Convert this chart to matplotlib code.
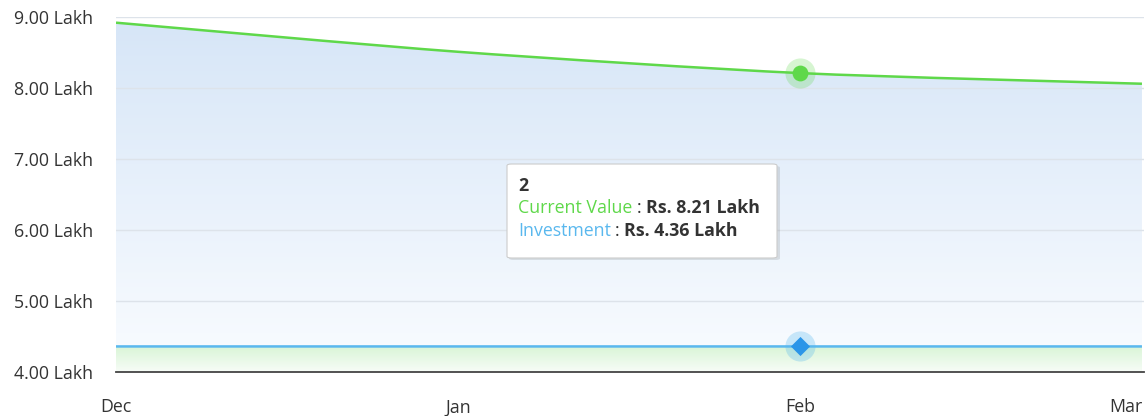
import numpy as np
import matplotlib.pyplot as plt
import matplotlib.transforms as mtransforms
from matplotlib.path import Path
from matplotlib.patches import PathPatch, FancyBboxPatch

plt.rcParams['font.family'] = ['Open Sans', 'DejaVu Sans']

# data (Rs. Lakh)
months = ['Dec', 'Jan', 'Feb', 'Mar']
current_value = [8.92, 8.51, 8.21, 8.06]
investment = [4.36, 4.36, 4.36, 4.36]
y_ticks = [4, 5, 6, 7, 8, 9]
hover_idx = 2

GREEN = '#5fd84a'
BLUE = '#5ab8ee'
FS = 12.8


def spline_verts(xs, ys, smooth=1.5):
    # highcharts-like smoothing: bezier control points from neighbours
    verts = [(xs[0], ys[0])]
    codes = [Path.MOVETO]
    n = len(xs)
    for i in range(1, n):
        p0 = (xs[i - 1], ys[i - 1])
        p1 = (xs[i], ys[i])
        prev = (xs[i - 2], ys[i - 2]) if i >= 2 else p0
        nxt = (xs[i + 1], ys[i + 1]) if i + 1 < n else p1
        c1 = (p0[0] + (p1[0] - prev[0]) / (2 * smooth + 1) * 0.5,
              p0[1] + (p1[1] - prev[1]) / (2 * smooth + 1) * 0.5)
        c2 = (p1[0] - (nxt[0] - p0[0]) / (2 * smooth + 1) * 0.5,
              p1[1] - (nxt[1] - p0[1]) / (2 * smooth + 1) * 0.5)
        verts += [c1, c2, p1]
        codes += [Path.CURVE4] * 3
    return verts, codes


fig = plt.figure(figsize=(11.46, 4.16), dpi=100)
ax = fig.add_axes([116 / 1146, 44 / 416, (1144 - 116) / 1146, 355 / 416])
x = np.arange(len(months))
ax.set_xlim(0, 3.006)
ax.set_ylim(4, 9)

# gradient fills
def grad_fill(ys, top_col, bot_col, ytop):
    v, c = spline_verts(list(x), ys)
    v = v + [(x[-1], 4), (x[0], 4), (x[0], ys[0])]
    c = c + [Path.LINETO, Path.LINETO, Path.CLOSEPOLY]
    patch = PathPatch(Path(v, c), facecolor='none', edgecolor='none')
    ax.add_patch(patch)
    t = np.linspace(0, 1, 256).reshape(-1, 1)
    top = np.array(top_col)
    bot = np.array(bot_col)
    img = top * (1 - t)[..., None] + bot * t[..., None]
    im = ax.imshow(img, extent=[0, 3.006, 4, ytop], aspect='auto',
                   origin='upper', zorder=1)
    im.set_clip_path(patch)
    v2, c2 = spline_verts(list(x), ys)
    return Path(v2, c2)

p_cur = grad_fill(current_value, (0.84, 0.90, 0.97), (0.98, 0.99, 1.0), 9)
p_inv = grad_fill(investment, (0.85, 0.96, 0.84), (0.97, 0.99, 0.97), 4.36)

for yt in y_ticks[1:]:
    ax.axhline(yt, color='#dde3ea', lw=1, zorder=2)

ax.add_patch(PathPatch(p_cur, facecolor='none', edgecolor=GREEN, lw=1.8, zorder=4))
ax.add_patch(PathPatch(p_inv, facecolor='none', edgecolor=BLUE, lw=1.8, zorder=4))

# hover markers
ax.scatter([x[hover_idx]], [current_value[hover_idx]], s=470, color=GREEN,
           alpha=0.25, lw=0, zorder=5, clip_on=False)
ax.scatter([x[hover_idx]], [current_value[hover_idx]], s=130, color=GREEN,
           lw=0, zorder=6)
ax.scatter([x[hover_idx]], [investment[hover_idx]], s=470, color=BLUE,
           alpha=0.3, lw=0, zorder=5)
ax.scatter([x[hover_idx]], [investment[hover_idx]], s=95, marker='D',
           color='#2b95e8', lw=0, zorder=6)

for s in ['top', 'right', 'left']:
    ax.spines[s].set_visible(False)
ax.spines['bottom'].set_color('#444444')
ax.spines['bottom'].set_linewidth(1.3)
ax.spines['bottom'].set_zorder(7)

ax.set_xticks(x)
ax.set_xticklabels(months)
ax.set_yticks(y_ticks)
ax.set_yticklabels(['%.2f Lakh' % v for v in y_ticks])
ax.tick_params(axis='both', length=0, labelsize=FS, colors='#333333')
ax.tick_params(axis='x', pad=19)
ax.tick_params(axis='y', pad=0)
for lbl in ax.get_yticklabels():
    lbl.set_horizontalalignment('left')
    lbl.set_x(-102 / 1028)
# last month label is pushed in a bit from the right edge
last = ax.get_xticklabels()[-1]
last.set_transform(last.get_transform() +
                   mtransforms.ScaledTranslation(-16 / 100, 0, fig.dpi_scale_trans))

# tooltip
box = FancyBboxPatch((507 / 1146, (416 - 258) / 416), 270 / 1146, 94 / 416,
                     boxstyle='round,pad=0,rounding_size=0.004',
                     transform=fig.transFigure, facecolor='white',
                     edgecolor='#cccccc', lw=0.8, zorder=10)
shadow = FancyBboxPatch((509 / 1146, (416 - 260) / 416), 271 / 1146, 94 / 416,
                        boxstyle='round,pad=0,rounding_size=0.004',
                        transform=fig.transFigure, facecolor='#000000',
                        alpha=0.10, lw=0, zorder=9)
fig.add_artist(shadow)
fig.add_artist(box)
tx = 518 / 1146
fig.text(tx, (416 - 186) / 416, str(hover_idx), fontsize=FS, weight='bold',
         color='#333333', va='center', zorder=11)
t1 = fig.text(tx, (416 - 208) / 416, 'Current Value', fontsize=FS,
              color=GREEN, va='center', zorder=11)
t2 = fig.text(tx, (416 - 231) / 416, 'Investment', fontsize=FS,
              color=BLUE, va='center', zorder=11)
fig.canvas.draw()
r = fig.canvas.get_renderer()
for t, val in [(t1, current_value[hover_idx]), (t2, investment[hover_idx])]:
    bb = t.get_window_extent(r)
    yy = t.get_position()[1]
    c = fig.text(bb.x1 / 1146 + 4 / 1146, yy, ':', fontsize=FS,
                 color='#333333', va='center', zorder=11)
    cb = c.get_window_extent(r)
    fig.text(cb.x1 / 1146 + 5 / 1146, yy, 'Rs. %.2f Lakh' % val,
             fontsize=FS, weight='bold', color='#333333', va='center', zorder=11)

fig.savefig('out.png', dpi=100)
